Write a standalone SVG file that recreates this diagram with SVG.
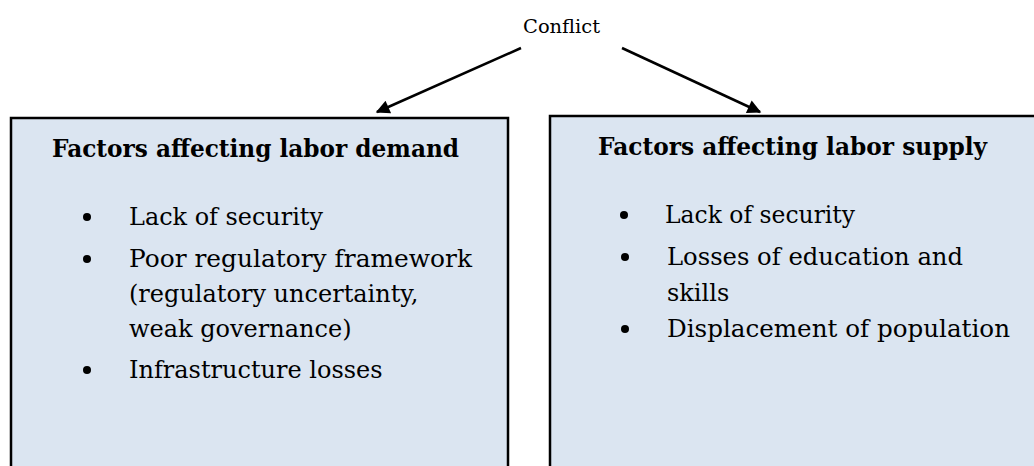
<svg xmlns="http://www.w3.org/2000/svg" width="1034" height="466" viewBox="0 0 1034 466">
<style>
.box{fill:#dbe5f1;stroke:#000;stroke-width:2.5}
.t{font-family:"DejaVu Serif","Liberation Serif",serif;fill:#000}
.h{font-size:24px;font-weight:bold}
.b{font-size:24px}
.c{font-size:19px}
.con{stroke:#000;stroke-width:2.5;fill:none}
</style>
<defs>
<marker id="ah" viewBox="0 0 10 10" refX="9" refY="5" markerWidth="6.5" markerHeight="5.5" orient="auto" markerUnits="strokeWidth">
<path d="M0,0 L10,5 L0,10 z" fill="#000"/>
</marker>
</defs>
<rect width="1034" height="466" fill="#fff"/>
<g id="conflict">
<text class="t c" x="523" y="33" textLength="77" lengthAdjust="spacingAndGlyphs">Conflict</text>
</g>
<g id="connectors">
<line class="con" x1="521" y1="48" x2="377" y2="112" marker-end="url(#ah)"/>
<line class="con" x1="622" y1="48" x2="760" y2="112" marker-end="url(#ah)"/>
</g>
<g id="demand">
<rect class="box" x="11" y="118" width="497" height="360"/>
<text class="t h" x="52" y="157" textLength="407" lengthAdjust="spacingAndGlyphs">Factors affecting labor demand</text>
<circle cx="87" cy="217" r="4"/>
<text class="t b" x="129" y="225" textLength="194" lengthAdjust="spacingAndGlyphs">Lack of security</text>
<circle cx="87" cy="259" r="4"/>
<text class="t b" x="129" y="267" textLength="343" lengthAdjust="spacingAndGlyphs">Poor regulatory framework</text>
<text class="t b" x="129" y="302">(regulatory uncertainty,</text>
<text class="t b" x="129" y="337">weak governance)</text>
<circle cx="87" cy="370" r="4"/>
<text class="t b" x="129" y="378">Infrastructure losses</text>
</g>
<g id="supply">
<rect class="box" x="550" y="116" width="500" height="360"/>
<text class="t h" x="598" y="155" textLength="389" lengthAdjust="spacingAndGlyphs">Factors affecting labor supply</text>
<circle cx="624" cy="215" r="4"/>
<text class="t b" x="665" y="223" textLength="190" lengthAdjust="spacingAndGlyphs">Lack of security</text>
<circle cx="625" cy="257" r="4"/>
<text class="t b" x="667" y="265" textLength="296" lengthAdjust="spacingAndGlyphs">Losses of education and</text>
<text class="t b" x="667" y="301">skills</text>
<circle cx="625" cy="329" r="4"/>
<text class="t b" x="667" y="337" textLength="343" lengthAdjust="spacingAndGlyphs">Displacement of population</text>
</g>
</svg>
